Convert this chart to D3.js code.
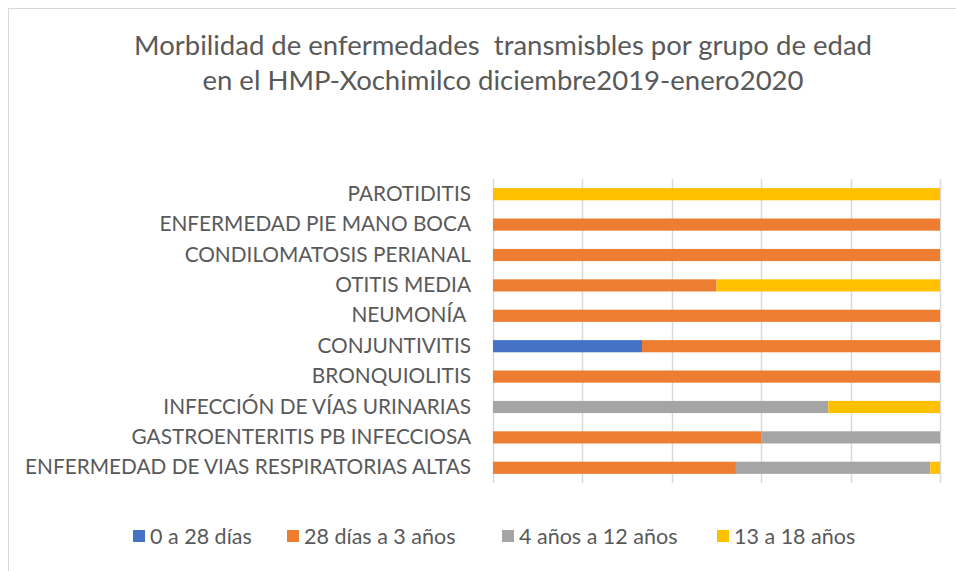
<!DOCTYPE html>
<html>
<head>
<meta charset="utf-8">
<script src="https://cdn.jsdelivr.net/npm/d3@7"></script>
<style>
  body { margin: 0; background: #fff; }
  text { font-family: Lato, "Open Sans", sans-serif; fill: #595959; white-space: pre; }
</style>
</head>
<body>
<div id="chart"></div>
<script>
// categories top to bottom
const categories = [
    "PAROTIDITIS",
    "ENFERMEDAD PIE MANO BOCA",
    "CONDILOMATOSIS PERIANAL",
    "OTITIS MEDIA",
    "NEUMONÍA ",
    "CONJUNTIVITIS",
    "BRONQUIOLITIS",
    "INFECCIÓN DE VÍAS URINARIAS",
    "GASTROENTERITIS PB INFECCIOSA",
    "ENFERMEDAD DE VIAS RESPIRATORIAS ALTAS"
];
const seriesNames = ["0 a 28 días", "28 días a 3 años", "4 años a 12 años", "13 a 18 años"];
const colors = ["#4472c4", "#ed7d31", "#a5a5a5", "#ffc000"];

// cases per age group (same order as categories)
const s0to28d = [0, 0, 0, 0, 0, 1, 0, 0, 0, 0];
const s28dto3 = [0, 1, 1, 1, 1, 2, 1, 0, 3, 25];
const s4to12 = [0, 0, 0, 0, 0, 0, 0, 3, 2, 20];
const s13to18 = [1, 0, 0, 1, 0, 0, 0, 1, 0, 1];
const xTicks = [0, 0.2, 0.4, 0.6, 0.8, 1];

const titleLines = [
    "Morbilidad de enfermedades  transmisbles por grupo de edad",
    "en el HMP-Xochimilco diciembre2019-enero2020"
];

const W = 956, H = 571;
const margin = { top: 179, right: 16, bottom: 88, left: 493 };
const width = W - margin.left - margin.right;
const height = H - margin.top - margin.bottom;

const svg = d3.select("#chart").append("svg")
    .attr("width", W)
    .attr("height", H);

// chart border
svg.append("rect")
    .attr("x", 8.5).attr("y", 8.5)
    .attr("width", W + 10).attr("height", H + 10)
    .attr("fill", "#fff")
    .attr("stroke", "#d9d9d9");

svg.selectAll(".title").data(titleLines).enter().append("text")
    .attr("class", "title")
    .attr("x", 503)
    .attr("y", (d, i) => 55 + i * 35)
    .attr("text-anchor", "middle")
    .attr("font-size", 27.5)
    .text(d => d);

let rows = categories.map((c, i) => ({
    cat: c,
    [seriesNames[0]]: s0to28d[i],
    [seriesNames[1]]: s28dto3[i],
    [seriesNames[2]]: s4to12[i],
    [seriesNames[3]]: s13to18[i]
}));
// normalise to 100%
rows.forEach(r => {
    let tot = d3.sum(seriesNames, k => r[k]);
    seriesNames.forEach(k => r[k] = r[k] / tot);
});

let stacked = d3.stack().keys(seriesNames)(rows);

let g = svg.append("g").attr("transform", `translate(${margin.left}, ${margin.top})`);

let x = d3.scaleLinear().domain([0, 1]).range([0, width]);
let y = d3.scaleBand().domain(categories).range([0, height]).paddingInner(0.6).paddingOuter(0.3);

g.selectAll(".grid").data(xTicks).enter().append("line")
    .attr("class", "grid")
    .attr("x1", d => Math.round(x(d)) + 0.5)
    .attr("x2", d => Math.round(x(d)) + 0.5)
    .attr("y1", 0)
    .attr("y2", height)
    .attr("stroke", "#d9d9d9")
    .attr("stroke-width", 1.5);

let layers = g.selectAll(".layer").data(stacked).enter().append("g")
    .attr("class", "layer")
    .attr("fill", (d, i) => colors[i]);

layers.selectAll("rect").data(d => d).enter().append("rect")
    .attr("x", d => x(d[0]))
    .attr("width", d => x(d[1]) - x(d[0]))
    .attr("y", d => y(d.data.cat))
    .attr("height", y.bandwidth());

let yAxis = d3.axisLeft(y).tickSize(0).tickPadding(22);
g.append("g").attr("class", "y-axis").call(yAxis)
    .call(a => a.select(".domain").remove())
    .selectAll("text")
    .attr("font-size", 20.8)
    .style("font-family", "Lato, sans-serif")
    .attr("fill", "#595959");

// legend
const legendX = [133, 287, 502, 717];
let legend = svg.selectAll(".legend").data(seriesNames).enter().append("g")
    .attr("class", "legend")
    .attr("transform", (d, i) => `translate(${legendX[i]}, 536)`);
legend.append("rect")
    .attr("x", 0).attr("y", -6)
    .attr("width", 12).attr("height", 12)
    .attr("fill", (d, i) => colors[i]);
legend.append("text")
    .attr("x", 17).attr("y", 8)
    .attr("font-size", 21.5)
    .text(d => d);
</script>
</body>
</html>
